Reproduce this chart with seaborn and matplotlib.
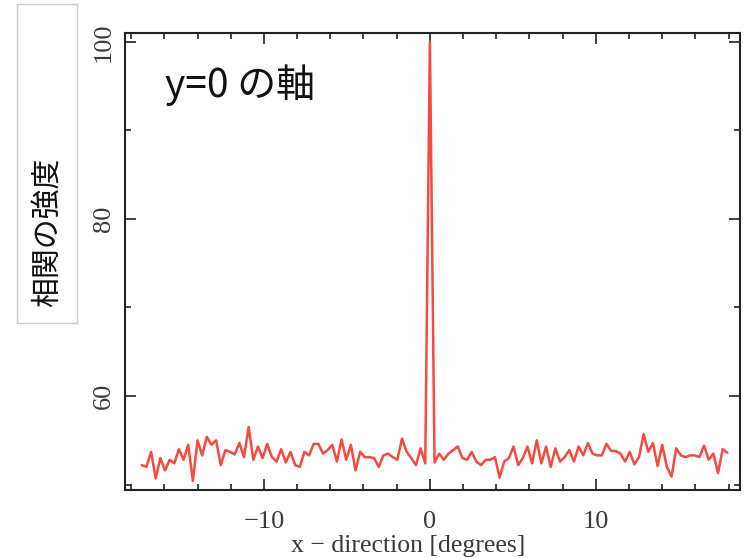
import numpy as np
import pandas as pd
import matplotlib
matplotlib.use("Agg")
import matplotlib.pyplot as plt
from matplotlib.patches import Rectangle
from matplotlib.ticker import MultipleLocator
import seaborn as sns

step = 0.28
k_start = -62
corr = [
    # k = -62 .. -39
    52.2, 52.0, 53.7, 50.7, 53.0, 51.6, 52.8, 52.4, 54.0, 52.8, 54.5, 50.4,
    55.0, 53.3, 55.4, 54.5, 55.0, 52.2, 53.9, 53.7, 53.4, 54.7, 53.1, 56.5,
    # k = -38 .. -14
    52.8, 54.3, 53.0, 54.6, 53.1, 52.6, 54.0, 52.5, 53.7, 52.2, 52.0, 53.7,
    53.3, 54.6, 54.6, 53.5, 53.9, 54.5, 52.6, 55.1, 52.8, 54.5, 51.6, 53.7, 53.1,
    # k = -13 .. 12
    53.1, 53.0, 52.0, 53.3, 53.5, 53.1, 52.8, 55.2, 53.7, 53.0, 52.2, 54.1, 52.4,
    100.0,
    52.5, 53.5, 52.8, 53.5, 53.9, 54.3, 53.0, 52.8, 53.7, 52.6, 52.2, 52.8,
    # k = 13 .. 38
    52.8, 53.1, 50.8, 52.6, 53.0, 54.3, 52.2, 53.0, 54.3, 52.4, 55.0, 52.4, 54.3,
    52.0, 54.1, 52.6, 53.1, 53.9, 52.6, 54.3, 53.3, 54.7, 53.5, 53.3, 53.3, 54.6,
    # k = 39 .. 64
    53.8, 53.8, 53.5, 52.6, 53.7, 52.3, 53.1, 55.7, 53.7, 54.7, 52.1, 54.5, 52.0,
    50.9, 54.1, 53.3, 53.1, 53.3, 53.3, 53.1, 54.4, 52.8, 53.5, 51.3, 54.0, 53.6,
]
x_deg = [(k_start + i) * step for i in range(len(corr))]

xticks = [-10, 0, 10]
yticks = [60, 80, 100]
xlabel = "x \u2212 direction [degrees]"
ylabel_box = "相関の強度"
title_text = "y=0 の軸"

sns.set_style("ticks")
plt.rcParams["font.family"] = ["Liberation Serif", "DejaVu Serif"]

df = pd.DataFrame({"x": x_deg, "y": corr})

fig = plt.figure(figsize=(7.5, 5.58), dpi=100)
ax = fig.add_axes([0.166, 0.122, 0.821, 0.819])

sns.lineplot(data=df, x="x", y="y", ax=ax, color="#f44a40", linewidth=1.8)

ax.set_xlim(-18.4, 18.7)
ax.set_ylim(49.4, 101.0)
ax.set_xticks(xticks)
ax.set_yticks(yticks)
ax.xaxis.set_minor_locator(MultipleLocator(2))
ax.yaxis.set_minor_locator(MultipleLocator(10))
ax.tick_params(which="both", direction="in", top=True, right=True,
               colors="#222222", width=1.2)
ax.tick_params(which="major", length=8, labelsize=19, labelcolor="#3a3a3a")
ax.tick_params(which="minor", length=4)
ax.tick_params(axis="x", which="major", pad=15)
ax.tick_params(axis="y", which="major", pad=7)
for lab in ax.get_yticklabels():
    lab.set_rotation(90)
    lab.set_va("center")
for sp in ax.spines.values():
    sp.set_linewidth(1.5)
    sp.set_color("#222222")

ax.set_xlabel(xlabel, fontsize=18.5, color="#3a3a3a", va="center")
ax.xaxis.set_label_coords(0.46, -0.123)
ax.set_ylabel("")

ax.text(0.065, 0.885, title_text, transform=ax.transAxes,
        fontsize=28, family=["Noto Sans CJK JP", "DejaVu Sans"],
        color="#111111", ha="left", va="center")

# label box on the left
fig.patches.append(Rectangle((17 / 750, 1 - 323 / 558), 60 / 750, 319 / 558,
                             transform=fig.transFigure, facecolor="white",
                             edgecolor="#cccccc", linewidth=1.0))
fig.text(48 / 750, 1 - 232 / 558, ylabel_box, rotation=90,
         fontsize=21.5, family=["Noto Sans CJK JP", "DejaVu Sans"],
         color="#111111", ha="center", va="center")

fig.savefig("out.png", dpi=100)
